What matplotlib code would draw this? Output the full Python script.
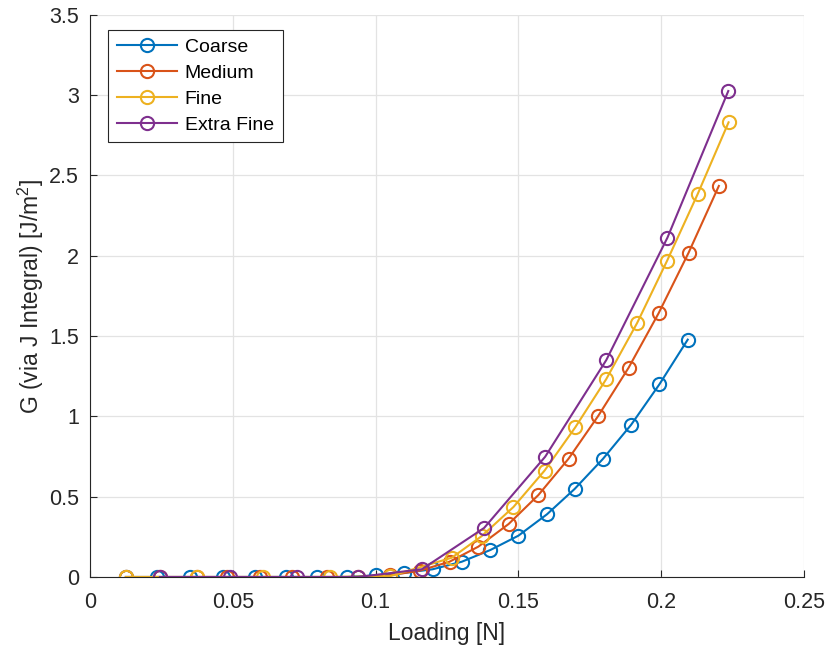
import matplotlib
matplotlib.use("Agg")
import matplotlib.pyplot as plt
from matplotlib.ticker import FuncFormatter

plt.rcParams["font.family"] = ["Liberation Sans", "DejaVu Sans"]
plt.rcParams["mathtext.fontset"] = "custom"
plt.rcParams["mathtext.rm"] = "Liberation Sans"
plt.rcParams["mathtext.it"] = "Liberation Sans:italic"

# loading [N] and G [J/m^2]
coarse_x = [0.0126, 0.0235, 0.0350, 0.0466, 0.0578, 0.0686, 0.0795, 0.0900, 0.1000, 0.1100,
            0.1200, 0.1302, 0.1402, 0.1500, 0.1600, 0.1697, 0.1796, 0.1895, 0.1994, 0.2093]
coarse_y = [0, 0, 0, 0, 0, 0, 0, 0, 0.01, 0.025,
            0.048, 0.095, 0.168, 0.257, 0.39, 0.548, 0.735, 0.948, 1.2, 1.478]

medium_x = [0.0126, 0.0245, 0.0374, 0.0480, 0.0597, 0.0708, 0.0829, 0.0939, 0.1050, 0.1156,
            0.1259, 0.1360, 0.1466, 0.1570, 0.1676, 0.1780, 0.1886, 0.1991, 0.2096, 0.2202]
medium_y = [0, 0, 0, 0, 0, 0, 0, 0, 0.01, 0.04,
            0.095, 0.189, 0.33, 0.51, 0.737, 1.004, 1.303, 1.642, 2.019, 2.435]

fine_x = [0.0126, 0.0374, 0.0607, 0.0841, 0.1051, 0.1267, 0.1372, 0.1483, 0.1592, 0.1699,
          0.1808, 0.1916, 0.2021, 0.2128, 0.2236]
fine_y = [0, 0, 0, 0, 0.005, 0.12, 0.255, 0.436, 0.663, 0.931,
          1.233, 1.582, 1.97, 2.385, 2.831]

xfine_x = [0.0245, 0.0490, 0.0724, 0.0940, 0.1162, 0.1380, 0.1594, 0.1808, 0.2022, 0.2235]
xfine_y = [0, 0, 0, 0, 0.048, 0.305, 0.749, 1.351, 2.113, 3.026]

series = [
    ("Coarse", coarse_x, coarse_y, "#0072BD"),
    ("Medium", medium_x, medium_y, "#D95319"),
    ("Fine", fine_x, fine_y, "#EDB120"),
    ("Extra Fine", xfine_x, xfine_y, "#7E2F8E"),
]

fig = plt.figure(figsize=(8.25, 6.48), dpi=100)
ax = fig.add_axes([0.109, 0.1096, 0.8655, 0.8674])

for label, xs, ys, color in series:
    ax.plot(xs, ys, "-o", color=color, label=label, linewidth=1.5,
            markersize=9.5, markerfacecolor="none", markeredgewidth=1.5)

ax.set_xlim(0, 0.25)
ax.set_ylim(0, 3.5)
ax.set_xticks([0, 0.05, 0.1, 0.15, 0.2, 0.25])
ax.set_yticks([0, 0.5, 1, 1.5, 2, 2.5, 3, 3.5])
fmt = FuncFormatter(lambda v, p: "%g" % v)
ax.xaxis.set_major_formatter(fmt)
ax.yaxis.set_major_formatter(fmt)

ax.grid(True, color="#E3E3E3", linewidth=0.9)
ax.set_axisbelow(True)
for side in ["top", "right"]:
    ax.spines[side].set_visible(False)
for side in ["left", "bottom"]:
    ax.spines[side].set_color("#262626")
    ax.spines[side].set_linewidth(0.8)
ax.tick_params(direction="in", length=5, width=0.8, colors="#262626",
               labelsize=15.5, pad=8)
ax.tick_params(axis="x", pad=11)

ax.set_xlabel("Loading [N]", fontsize=16.5, color="#262626", labelpad=6)
ax.set_ylabel("G (via J Integral) [J/m$^2$]", fontsize=16.5, color="#262626", labelpad=2)

leg = ax.legend(loc="upper left", bbox_to_anchor=(0.0252, 0.9733), fontsize=14,
                fancybox=False, framealpha=1, edgecolor="#262626", handlelength=3.1,
                borderaxespad=0, labelspacing=0.42, handletextpad=0.4, borderpad=0.45)
leg.get_frame().set_linewidth(0.8)

fig.savefig("out.png", dpi=100)
